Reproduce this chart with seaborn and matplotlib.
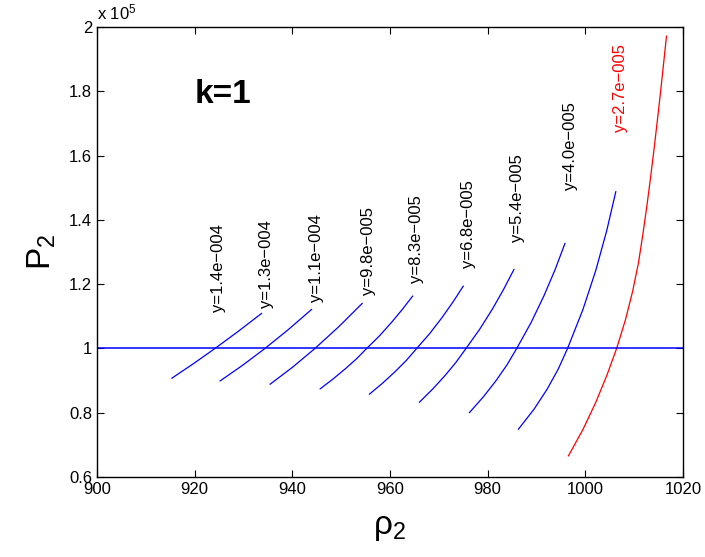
import numpy as np
import pandas as pd
import matplotlib
matplotlib.use("Agg")
import matplotlib.pyplot as plt
import seaborn as sns

# ---- data (P in units of 1e5) ----
labels = ["y=1.4e\u2212004", "y=1.3e\u2212004", "y=1.1e\u2212004", "y=9.8e\u2212005",
          "y=8.3e\u2212005", "y=6.8e\u2212005", "y=5.4e\u2212005", "y=4.0e\u2212005",
          "y=2.7e\u2212005"]
colors = ["#0000ff"] * 8 + ["#ff0000"]

rho_1 = [915.30, 919.74, 924.17, 928.95, 933.73]
p_1 = [0.9071, 0.9525, 1.0000, 1.0535, 1.1093]
rho_2 = [925.19, 929.80, 934.40, 939.19, 943.97]
p_2 = [0.8987, 0.9474, 1.0000, 1.0588, 1.1217]
rho_3 = [935.43, 940.04, 944.64, 949.49, 954.33]
p_3 = [0.8884, 0.9415, 1.0000, 1.0673, 1.1404]
rho_4 = [945.67, 948.33, 950.80, 953.10, 955.23, 957.86, 960.29, 962.55, 964.65]
p_4 = [0.8738, 0.9049, 0.9360, 0.9671, 1.0000, 1.0394, 1.0807, 1.1219, 1.1631]
rho_5 = [955.76, 958.52, 961.05, 963.36, 965.47, 968.18, 970.66, 972.93, 975.01]
p_5 = [0.8573, 0.8925, 0.9278, 0.9630, 1.0000, 1.0472, 1.0962, 1.1452, 1.1942]
rho_6 = [966.00, 968.75, 971.25, 973.51, 975.57, 978.39, 980.96, 983.28, 985.40]
p_6 = [0.8324, 0.8738, 0.9153, 0.9568, 1.0000, 1.0602, 1.1222, 1.1842, 1.2462]
rho_7 = [976.24, 979.13, 981.68, 983.95, 985.95, 988.89, 991.49, 993.80, 995.84]
p_7 = [0.8000, 0.8496, 0.8991, 0.9487, 1.0000, 1.0804, 1.1626, 1.2448, 1.3271]
rho_8 = [986.28, 989.49, 992.18, 994.45, 996.36, 999.50, 1002.15, 1004.37, 1006.25]
p_8 = [0.7484, 0.8108, 0.8733, 0.9357, 1.0000, 1.1207, 1.2432, 1.3657, 1.4882]
rho_9 = [996.52, 999.55, 1002.15, 1004.42, 1006.41, 1008.22, 1009.69, 1010.89,
         1011.79, 1012.61, 1013.36, 1014.07, 1014.74, 1015.39, 1016.01, 1016.62]
p_9 = [0.6653, 0.7490, 0.8327, 0.9167, 1.0000, 1.0894, 1.1780, 1.2670,
       1.3560, 1.4440, 1.5321, 1.6201, 1.7082, 1.7959, 1.8840, 1.9720]

rho_curves = [rho_1, rho_2, rho_3, rho_4, rho_5, rho_6, rho_7, rho_8, rho_9]
p_curves = [p_1, p_2, p_3, p_4, p_5, p_6, p_7, p_8, p_9]

label_rho = [924.8, 934.8, 945.0, 955.5, 965.5, 976.0, 986.2, 996.9, 1007.1]
label_p = [1.114, 1.125, 1.145, 1.166, 1.203, 1.249, 1.332, 1.493, 1.674]

ref_p = 1.0
x_ticks = [900, 920, 940, 960, 980, 1000, 1020]
y_ticks = [0.6, 0.8, 1.0, 1.2, 1.4, 1.6, 1.8, 2.0]
y_ticklabels = ["0.6", "0.8", "1", "1.2", "1.4", "1.6", "1.8", "2"]

# ---- style ----
sns.set_style("ticks")
plt.rcParams["font.family"] = ["Liberation Sans", "DejaVu Sans"]
plt.rcParams["mathtext.fontset"] = "custom"
plt.rcParams["mathtext.rm"] = "Liberation Sans"
plt.rcParams["mathtext.it"] = "Liberation Sans"
plt.rcParams["mathtext.bf"] = "Liberation Sans:bold"
for k in ["text.color", "axes.labelcolor", "xtick.color", "ytick.color", "axes.edgecolor"]:
    plt.rcParams[k] = "black"

fig = plt.figure(figsize=(7.05, 5.57), dpi=100)
ax = fig.add_axes([97 / 705, 80 / 557, 586 / 705, 450 / 557])

rows = []
for i, (r, p) in enumerate(zip(rho_curves, p_curves)):
    for rr, pp in zip(r, p):
        rows.append({"rho": rr, "P": pp, "curve": labels[i]})
df = pd.DataFrame(rows)

sns.lineplot(data=df, x="rho", y="P", hue="curve", palette=dict(zip(labels, colors)),
             sort=False, estimator=None, legend=False, linewidth=0.9, ax=ax)

ax.axhline(ref_p, color="#0000ff", linewidth=1.1)

for lab, lx, ly, c in zip(labels, label_rho, label_p, colors):
    ax.text(lx, ly, lab, rotation=90, ha="center", va="bottom", fontsize=12,
            color="black" if c == "#0000ff" else c)

ax.text(920.07, 1.763, "k=1", fontsize=24, fontweight="bold", ha="left",
        va="baseline", color="black")

ax.set_xlim(900, 1020)
ax.set_ylim(0.6, 2.0)
ax.set_xticks(x_ticks)
ax.set_xticklabels([str(t) for t in x_ticks])
ax.set_yticks(y_ticks)
ax.set_yticklabels(y_ticklabels)
ax.tick_params(direction="in", length=5, width=0.8, labelsize=12, top=True, right=True,
               colors="black")
for s in ax.spines.values():
    s.set_visible(True)
    s.set_linewidth(1.0)
    s.set_color("black")

ax.set_xlabel(r"$\mathrm{\rho_2}$", fontsize=24, labelpad=11, color="black")
ax.set_ylabel(r"$\mathrm{P_2}$", fontsize=24, labelpad=8, color="black")

fig.text(97 / 705, 1 - 19 / 557, r"x 10$^{5}$", fontsize=12, ha="left",
         va="baseline", color="black")

fig.savefig("out.png", dpi=100)
